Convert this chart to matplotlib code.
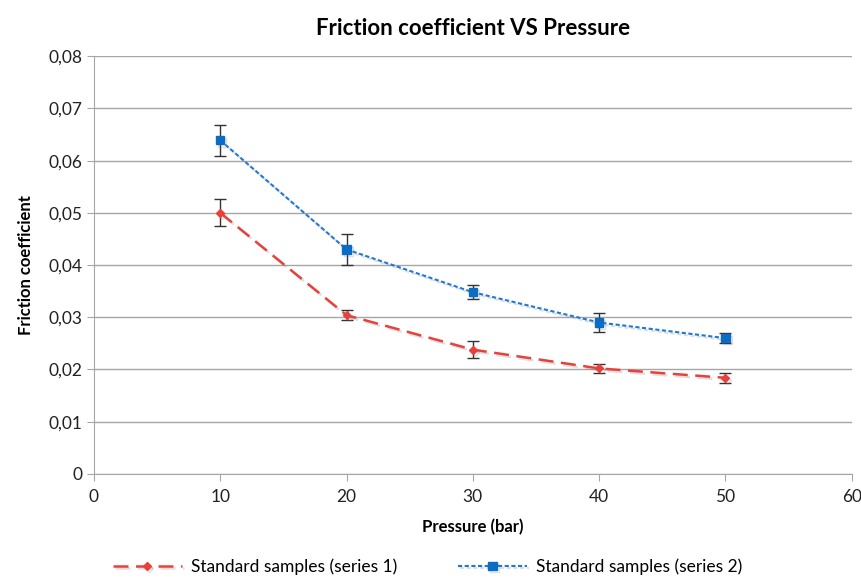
import matplotlib
matplotlib.use("Agg")
import matplotlib.pyplot as plt
import matplotlib.patheffects as pe
from matplotlib.ticker import FuncFormatter, MultipleLocator

pressure = [10, 20, 30, 40, 50]
series1 = [0.0500, 0.0304, 0.0238, 0.0202, 0.0184]
series1_err = [0.0026, 0.0010, 0.0016, 0.0008, 0.0009]
series2 = [0.0639, 0.0430, 0.0348, 0.0290, 0.0260]
series2_err = [0.0030, 0.0030, 0.0013, 0.0018, 0.0010]

plt.rcParams['font.family'] = ['Lato', 'DejaVu Sans']

fig = plt.figure(figsize=(8.62, 5.8), dpi=100)
ax = fig.add_axes([0.109, 0.183, 0.879, 0.72])

shadow = [pe.SimpleLineShadow(offset=(1.5, -1.5), alpha=0.25, shadow_color="gray"), pe.Normal()]

ax.errorbar(pressure, series1, yerr=series1_err, fmt="none", ecolor="#333333",
            elinewidth=1.0, capsize=4, capthick=1.0, zorder=3)
ax.errorbar(pressure, series2, yerr=series2_err, fmt="none", ecolor="#333333",
            elinewidth=1.0, capsize=4, capthick=1.0, zorder=3)

ax.plot(pressure, series1, color="#e8413c", linestyle=(0, (6, 3)), linewidth=1.8,
        marker="D", markersize=4, markeredgecolor="#e8413c",
        label="Standard samples (series 1)", path_effects=shadow, zorder=4)
ax.plot(pressure, series2, color="#1f78d1", linestyle=(0, (2, 1.2)), linewidth=1.5,
        marker="s", markersize=6, markerfacecolor="#0a6cc2", markeredgecolor="#0a6cc2",
        label="Standard samples (series 2)", path_effects=shadow, zorder=4)

ax.set_xlim(0, 60)
ax.set_ylim(0, 0.08)
ax.xaxis.set_major_locator(MultipleLocator(10))
ax.yaxis.set_major_locator(MultipleLocator(0.01))

def comma(v, pos):
    if abs(v) < 1e-9:
        return "0"
    return f"{v:.2f}".replace(".", ",")

ax.yaxis.set_major_formatter(FuncFormatter(comma))

ax.grid(axis="y", color="#a6a6a6", linewidth=1.0)
ax.set_axisbelow(True)
for s in ["top", "right"]:
    ax.spines[s].set_visible(False)
for s in ["left", "bottom"]:
    ax.spines[s].set_color("#a6a6a6")
ax.tick_params(axis="both", colors="#a6a6a6", labelcolor="#222222", labelsize=12.5, length=5)
ax.tick_params(axis="x", pad=6)

ax.set_title("Friction coefficient VS Pressure", fontsize=16, fontweight="bold", pad=15)
ax.set_xlabel("Pressure (bar)", fontsize=12, fontweight="bold", labelpad=10)
ax.set_ylabel("Friction coefficient", fontsize=12, fontweight="bold", labelpad=10)

ax.legend(loc="upper center", bbox_to_anchor=(0.44, -0.165), ncol=2, frameon=False,
          fontsize=12.5, handlelength=4, columnspacing=3.5, handletextpad=0.5)

fig.savefig("out.png", dpi=100)
